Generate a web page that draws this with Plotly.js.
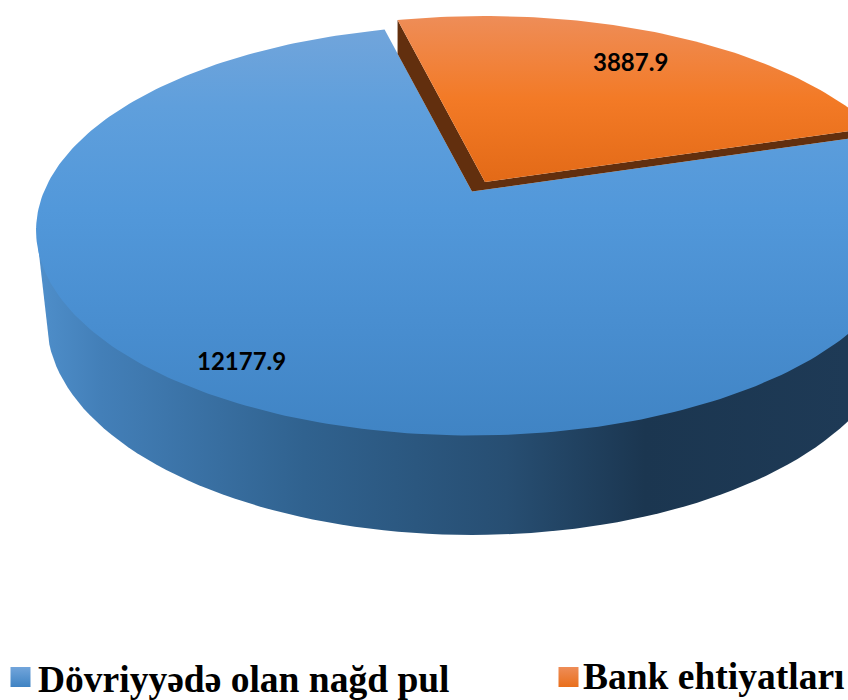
<!DOCTYPE html>
<html><head><meta charset="utf-8">
<script src="https://cdn.plot.ly/plotly-3.0.1.min.js"></script>
<style>html,body{margin:0;padding:0;background:#fff;overflow:hidden}#c{width:848px;height:700px}</style>
</head><body><div id="c"></div>
<script>
var categories = ["Dövriyyədə olan nağd pul", "Bank ehtiyatları"];
var values = [12177.9, 3887.9];
var valueLabels = ["12177.9", "3887.9"];

// projection of the tilted pie
var cx = 472, cy = 191.5, A = 428, B = 197.6, K = 0.19, firstAngle = -14;
var shift = [13, -9.5];           // explosion of the second slice
var total = values[0] + values[1];
var orangeSweep = 360 * values[1] / total;

function proj(deg, r, d) {
  var t = deg * Math.PI / 180, u = r * Math.sin(t), v = r * Math.cos(t), w = 1 + K * v;
  return [cx + A * u / w + (d ? d[0] : 0), cy - B * v / w + (d ? d[1] : 0)];
}
function sector(a0, a1, d) {
  var pts = [proj(0, 0, d)], n = Math.ceil(Math.abs(a1 - a0));
  for (var i = 0; i <= n; i++) pts.push(proj(a0 + (a1 - a0) * i / n, 1, d));
  pts.push(proj(0, 0, d));
  return { x: pts.map(function (p) { return p[0]; }), y: pts.map(function (p) { return p[1]; }) };
}
var a0 = firstAngle, a1 = firstAngle + orangeSweep;

// outer wall of the pie
var wx = [cx - 436], wy = [228];
for (var d = 180; d >= 0; d -= 2) {
  var t = d * Math.PI / 180;
  wx.push(cx + 425 * Math.cos(t)); wy.push(322 + 213 * Math.sin(t));
}
wx.push(cx + 436); wy.push(228);

var blue = sector(a1, a0 + 360);
var orange = sector(a0, a1, shift);

// cut wall of the exploded slice
var Os = proj(a0, 1, shift), Oa = proj(0, 0, shift), Oe = proj(a1, 1, shift);
var Bs = proj(a0, 1), Ba = proj(0, 0), Be = proj(a1, 1);
var f = (Os[0] - Bs[0]) / (Ba[0] - Bs[0]);
var Bl = [Os[0], Bs[1] + f * (Ba[1] - Bs[1])];
var cutX = [Os[0], Oa[0], Oe[0], Be[0], Ba[0], Bl[0], Os[0]];
var cutY = [Os[1], Oa[1], Oe[1], Be[1], Ba[1], Bl[1], Os[1]];

var noLine = { width: 0 };
var traces = [
  { x: wx, y: wy, mode: 'lines', fill: 'toself', line: noLine, hoverinfo: 'skip',
    fillgradient: { type: 'horizontal', start: 36, stop: 848,
      colorscale: [[0, '#4f8fcb'], [0.08, '#437fb8'], [0.33, '#30628f'], [0.58, '#274e72'], [0.75, '#1b3650'], [1, '#1e3a56']] } },
  { x: blue.x, y: blue.y, mode: 'lines', fill: 'toself', line: noLine, name: categories[0],
    fillgradient: { type: 'vertical', start: 25, stop: 435,
      colorscale: [[0, '#72a5db'], [0.2, '#5f9fdc'], [0.45, '#5298da'], [0.75, '#488dcf'], [1, '#4084c4']] } },
  { x: cutX, y: cutY, mode: 'lines', fill: 'toself', line: noLine, fillcolor: '#622f0e', hoverinfo: 'skip' },
  { x: orange.x, y: orange.y, mode: 'lines', fill: 'toself', line: noLine, name: categories[1],
    fillgradient: { type: 'vertical', start: 16, stop: 182,
      colorscale: [[0, '#ee8d58'], [0.5, '#f37a26'], [1, '#e36a17']] } },
  { x: [20.5], y: [677], mode: 'markers', hoverinfo: 'skip',
    marker: { symbol: 'square', size: 20, color: '#72a5db', gradient: { type: 'vertical', color: '#3f83c3' } } },
  { x: [568.5], y: [677], mode: 'markers', hoverinfo: 'skip',
    marker: { symbol: 'square', size: 20, color: '#ee8d58', gradient: { type: 'vertical', color: '#e96f1b' } } }
];

var valFont = { family: 'Lato, Carlito, sans-serif', size: 24, color: '#000' };
var legFont = { family: '"Liberation Serif", serif', size: 37.5, color: '#000' };
var layout = {
  width: 848, height: 700, margin: { l: 0, r: 0, t: 0, b: 0 },
  paper_bgcolor: '#fff', plot_bgcolor: 'rgba(0,0,0,0)', showlegend: false,
  xaxis: { range: [0, 848], visible: false, fixedrange: true },
  yaxis: { range: [700, 0], visible: false, fixedrange: true },
  annotations: [
    { x: 241, y: 360, text: '<b>' + valueLabels[0] + '</b>', showarrow: false, font: valFont },
    { x: 630, y: 61, text: '<b>' + valueLabels[1] + '</b>', showarrow: false, font: valFont },
    { x: 36, y: 679, xanchor: 'left', text: '<b>' + categories[0] + '</b>', showarrow: false, font: legFont },
    { x: 581, y: 676, xanchor: 'left', text: '<b>' + categories[1] + '</b>', showarrow: false, font: legFont }
  ]
};
Plotly.newPlot('c', traces, layout, { displayModeBar: false, staticPlot: true });
</script></body></html>
